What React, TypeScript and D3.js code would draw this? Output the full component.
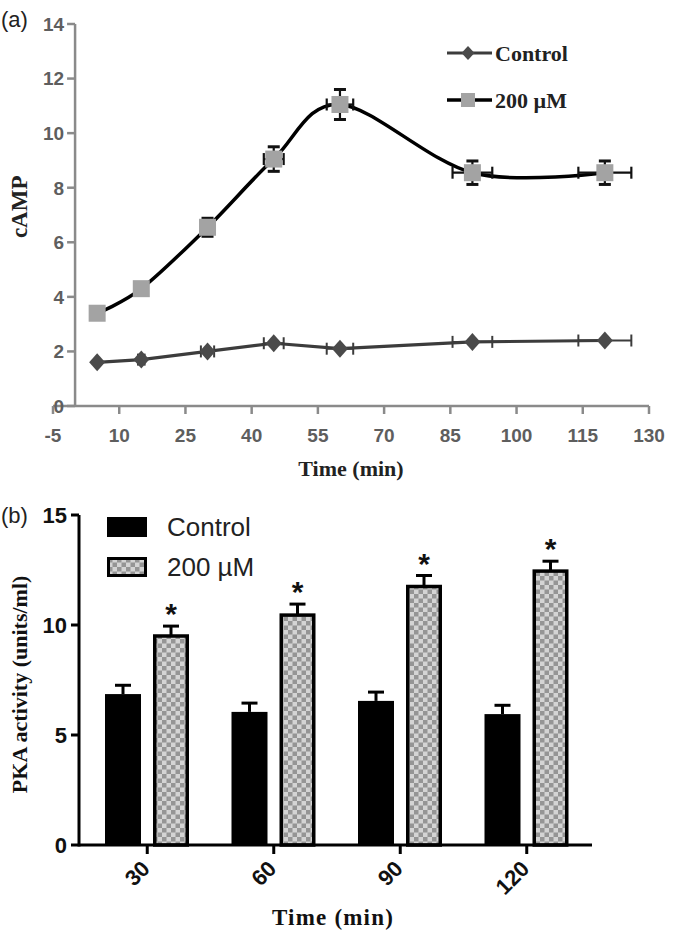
import React from "react";
import * as d3 from "d3";

// ---------- Panel (a) data ----------
const times = [5, 15, 30, 45, 60, 90, 120];
const controlCamp = [1.6, 1.7, 2.0, 2.3, 2.1, 2.35, 2.4];
const treatedCamp = [3.4, 4.3, 6.55, 9.05, 11.05, 8.55, 8.55];
const treatedCampErr = [0.17, 0.22, 0.33, 0.45, 0.55, 0.43, 0.43];
const controlCampErr = [0.08, 0.09, 0.1, 0.12, 0.1, 0.12, 0.12];
const timeErr = [0.25, 0.75, 1.5, 2.25, 3, 4.5, 6];
const xTicksA = [-5, 10, 25, 40, 55, 70, 85, 100, 115, 130];
const yTicksA = [0, 2, 4, 6, 8, 10, 12, 14];
const legendA = ["Control", "200 µM"];

// ---------- Panel (b) data ----------
const pkaTimes = ["30", "60", "90", "120"];
const pkaControl = [6.86, 6.05, 6.55, 5.95];
const pkaControlErr = [0.4, 0.4, 0.4, 0.4];
const pkaTreated = [9.5, 10.45, 11.75, 12.45];
const pkaTreatedErr = [0.45, 0.5, 0.5, 0.45];
const yTicksB = [0, 5, 10, 15];
const legendB = ["Control", "200 µM"];

const serif = "'Liberation Serif', 'DejaVu Serif', serif";
const sans = "'Liberation Sans', Arial, sans-serif";

export default function App() {
  // scales (a)
  const xA = d3.scaleLinear().domain([-5, 130]).range([53, 649]);
  const yA = d3.scaleLinear().domain([0, 14]).range([406, 24]);
  const axisGray = "#8a8a8a";

  const treatedPts = times.map((t, i) => [xA(t), yA(treatedCamp[i])] as [number, number]);
  const controlPts = times.map((t, i) => [xA(t), yA(controlCamp[i])] as [number, number]);
  const smoothLine = d3.line().curve(d3.curveCatmullRom.alpha(0));
  const straightLine = d3.line();

  const diamond = (cx: number, cy: number, w: number, h: number) =>
    `M${cx},${cy - h}L${cx + w},${cy}L${cx},${cy + h}L${cx - w},${cy}Z`;

  // scales (b)
  const xB = d3.scaleBand().domain(pkaTimes).range([84, 590]);
  const xInner = d3.scaleBand().domain(["c", "t"]).range([21, 105]).paddingInner(0.25);
  const yB = d3.scaleLinear().domain([0, 15]).range([845, 515]);

  return (
    <svg width={680} height={935} style={{ position: "absolute", left: 0, top: 0, background: "#fff" }}>
      <defs>
        <pattern id="checker" width={9} height={9} patternUnits="userSpaceOnUse">
          <rect width={9} height={9} fill="#d4d4d4" />
          <rect x={0} y={0} width={4.5} height={4.5} fill="#959595" />
          <rect x={4.5} y={4.5} width={4.5} height={4.5} fill="#959595" />
        </pattern>
      </defs>

      {/* ================= Panel (a) ================= */}
      <text x={1} y={27} fontFamily={sans} fontSize={22} fill="#222">(a)</text>

      {/* axes */}
      <line x1={xA(0)} x2={xA(0)} y1={yA(0)} y2={yA(14)} stroke={axisGray} strokeWidth={2.5} />
      <line x1={xA(-5)} x2={xA(130)} y1={yA(0)} y2={yA(0)} stroke={axisGray} strokeWidth={2.5} />
      {yTicksA.map((v) => (
        <g key={"ya" + v}>
          <line x1={xA(0) - 8} x2={xA(0)} y1={yA(v)} y2={yA(v)} stroke={axisGray} strokeWidth={2.5} />
          <text x={xA(0) - 11} y={yA(v)} dy="0.36em" textAnchor="end" fontFamily={sans} fontWeight="bold" fontSize={19} fill="#5e5e5e">
            {v}
          </text>
        </g>
      ))}
      {xTicksA.map((v) => (
        <g key={"xa" + v}>
          <line x1={xA(v)} x2={xA(v)} y1={yA(0)} y2={yA(0) + 8} stroke={axisGray} strokeWidth={2.5} />
          <text x={xA(v)} y={yA(0) + 36} textAnchor="middle" fontFamily={sans} fontWeight="bold" fontSize={19} fill="#5e5e5e">
            {v}
          </text>
        </g>
      ))}
      <text x={xA(62.5)} y={476} textAnchor="middle" fontFamily={serif} fontWeight="bold" fontSize={22} fill="#222">
        Time (min)
      </text>
      <text
        transform={`translate(27,${yA(7.3)}) rotate(-90)`}
        textAnchor="middle"
        fontFamily={serif}
        fontWeight="bold"
        fontSize={23}
        fill="#222"
      >
        cAMP
      </text>

      {/* control series */}
      <path d={straightLine(controlPts) || ""} fill="none" stroke="#3c3c3c" strokeWidth={3.2} />
      {times.map((t, i) => (
        <g key={"ce" + t} stroke="#3c3c3c" strokeWidth={2}>
          <line x1={xA(t - timeErr[i])} x2={xA(t + timeErr[i])} y1={yA(controlCamp[i])} y2={yA(controlCamp[i])} />
          <line x1={xA(t - timeErr[i])} x2={xA(t - timeErr[i])} y1={yA(controlCamp[i]) - 6} y2={yA(controlCamp[i]) + 6} />
          <line x1={xA(t + timeErr[i])} x2={xA(t + timeErr[i])} y1={yA(controlCamp[i]) - 6} y2={yA(controlCamp[i]) + 6} />
          <line x1={xA(t)} x2={xA(t)} y1={yA(controlCamp[i] - controlCampErr[i])} y2={yA(controlCamp[i] + controlCampErr[i])} />
        </g>
      ))}
      {controlPts.map(([cx, cy], i) => (
        <path key={"cd" + i} d={diamond(cx, cy, 8, 9)} fill="#4a4a4a" />
      ))}

      {/* 200 µM series */}
      <path d={smoothLine(treatedPts) || ""} fill="none" stroke="#000" strokeWidth={3.5} />
      {times.map((t, i) => {
        const cx = xA(t);
        const cy = yA(treatedCamp[i]);
        const xl = xA(t - timeErr[i]);
        const xr = xA(t + timeErr[i]);
        const yt = yA(treatedCamp[i] + treatedCampErr[i]);
        const yb = yA(treatedCamp[i] - treatedCampErr[i]);
        return (
          <g key={"te" + t} stroke="#111" strokeWidth={2.2}>
            <line x1={xl} x2={xr} y1={cy} y2={cy} />
            <line x1={xl} x2={xl} y1={cy - 6} y2={cy + 6} />
            <line x1={xr} x2={xr} y1={cy - 6} y2={cy + 6} />
            <line x1={cx} x2={cx} y1={yt} y2={yb} />
            <line x1={cx - 6} x2={cx + 6} y1={yt} y2={yt} strokeWidth={3} />
            <line x1={cx - 6} x2={cx + 6} y1={yb} y2={yb} strokeWidth={3} />
          </g>
        );
      })}
      {treatedPts.map(([cx, cy], i) => (
        <rect key={"ts" + i} x={cx - 8.5} y={cy - 8.5} width={17} height={17} fill="#a3a3a3" />
      ))}

      {/* legend (a) */}
      <line x1={447} x2={492} y1={53} y2={53} stroke="#3c3c3c" strokeWidth={3.2} />
      <path d={diamond(468, 53, 6.5, 7)} fill="#4a4a4a" />
      <text x={495} y={53} dy="0.35em" fontFamily={serif} fontWeight="bold" fontSize={22} fill="#222">
        {legendA[0]}
      </text>
      <line x1={447} x2={492} y1={100} y2={100} stroke="#000" strokeWidth={3.5} />
      <rect x={461} y={93} width={14} height={14} fill="#a3a3a3" />
      <text x={495} y={100} dy="0.35em" fontFamily={serif} fontWeight="bold" fontSize={22} fill="#222">
        {legendA[1]}
      </text>

      {/* ================= Panel (b) ================= */}
      <text x={1} y={523} fontFamily={sans} fontSize={22} fill="#222">(b)</text>

      {/* bars */}
      {pkaTimes.map((c, i) => {
        const gx = xB(c) as number;
        const cx0 = gx + (xInner("c") as number);
        const tx0 = gx + (xInner("t") as number);
        const bw = xInner.bandwidth();
        const cTop = yB(pkaControl[i]);
        const cErr = yB(pkaControl[i] + pkaControlErr[i]);
        const tTop = yB(pkaTreated[i]);
        const tErr = yB(pkaTreated[i] + pkaTreatedErr[i]);
        return (
          <g key={"bar" + c}>
            {/* control error */}
            <line x1={cx0 + bw / 2} x2={cx0 + bw / 2} y1={cTop} y2={cErr} stroke="#000" strokeWidth={3} />
            <line x1={cx0 + bw / 2 - 8} x2={cx0 + bw / 2 + 8} y1={cErr} y2={cErr} stroke="#000" strokeWidth={3} />
            <rect x={cx0} y={cTop} width={bw} height={yB(0) - cTop} fill="#000" />
            {/* treated error */}
            <line x1={tx0 + bw / 2} x2={tx0 + bw / 2} y1={tTop} y2={tErr} stroke="#000" strokeWidth={3} />
            <line x1={tx0 + bw / 2 - 8} x2={tx0 + bw / 2 + 8} y1={tErr} y2={tErr} stroke="#000" strokeWidth={3} />
            <rect
              x={tx0 + 1.75}
              y={tTop}
              width={bw - 3.5}
              height={yB(0) - tTop}
              fill="url(#checker)"
              stroke="#000"
              strokeWidth={3.5}
            />
            <text x={tx0 + bw / 2} y={tErr - 2} textAnchor="middle" fontFamily={sans} fontWeight="bold" fontSize={30} fill="#111">
              *
            </text>
          </g>
        );
      })}

      {/* axes (b) */}
      <line x1={79} x2={79} y1={yB(0) + 1.5} y2={yB(15)} stroke="#000" strokeWidth={3} />
      <line x1={79} x2={592} y1={yB(0)} y2={yB(0)} stroke="#000" strokeWidth={3} />
      {yTicksB.map((v) => (
        <g key={"yb" + v}>
          <line x1={71} x2={79} y1={yB(v)} y2={yB(v)} stroke="#000" strokeWidth={3} />
          <text x={67} y={yB(v)} dy="0.36em" textAnchor="end" fontFamily={sans} fontWeight="bold" fontSize={22} fill="#111">
            {v}
          </text>
        </g>
      ))}
      {pkaTimes.map((c) => {
        const cx = (xB(c) as number) + xB.bandwidth() / 2;
        return (
          <g key={"xb" + c}>
            <line x1={cx} x2={cx} y1={yB(0)} y2={yB(0) + 9} stroke="#000" strokeWidth={3} />
            <text
              transform={`translate(${cx + 4},${yB(0) + 25}) rotate(-45)`}
              textAnchor="end"
              fontFamily={sans}
              fontWeight="bold"
              fontSize={22}
              fill="#111"
            >
              {c}
            </text>
          </g>
        );
      })}
      <text x={333} y={925} textAnchor="middle" fontFamily={serif} fontWeight="bold" fontSize={23} letterSpacing={1.2} fill="#111">
        Time (min)
      </text>
      <text
        transform={`translate(27,${yB(7.3)}) rotate(-90)`}
        textAnchor="middle"
        fontFamily={serif}
        fontWeight="bold"
        fontSize={22}
        fill="#111"
      >
        PKA activity (units/ml)
      </text>

      {/* legend (b) */}
      <rect x={107} y={517} width={40} height={20} fill="#000" />
      <text x={167} y={527} dy="0.36em" fontFamily={sans} fontSize={26} fill="#222">
        {legendB[0]}
      </text>
      <rect x={108.5} y={558.5} width={37} height={17} fill="url(#checker)" stroke="#000" strokeWidth={3} />
      <text x={167} y={567} dy="0.36em" fontFamily={sans} fontSize={26} fill="#222">
        {legendB[1]}
      </text>
    </svg>
  );
}
